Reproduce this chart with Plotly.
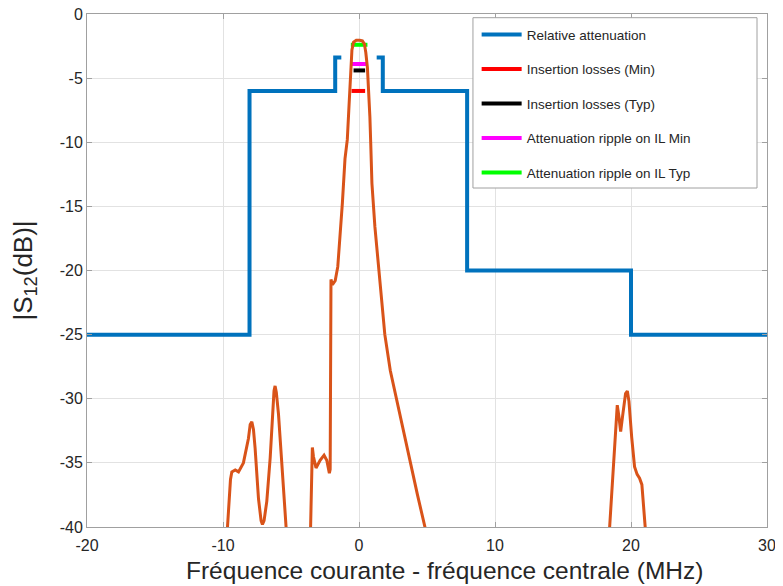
import plotly.graph_objects as go

# ---- Data ----
# Relative attenuation mask (MHz offset, dB)
mask_freq = [-20, -8.05, -8.05, -1.75, -1.75, -1.3, None, 1.3, 1.75, 1.75, 7.95, 7.95, 20, 20, 30]
mask_db = [-25, -25, -6, -6, -3.4, -3.4, None, -3.4, -3.4, -6, -6, -20, -20, -25, -25]

# Short horizontal specification segments
il_min_freq = [-0.55, 0.45]
il_min_db = [-6, -6]
il_typ_freq = [-0.4, 0.45]
il_typ_db = [-4.4, -4.4]
ripple_min_freq = [-0.55, 0.62]
ripple_min_db = [-3.9, -3.9]
ripple_typ_freq = [-0.6, 0.62]
ripple_typ_db = [-2.4, -2.4]

# Measured |S12| (MHz offset, dB); None separates parts below -40 dB
meas_freq = [
    -9.7, -9.58, -9.45, -9.35, -9.1, -8.86, -8.5, -8.13, -8.0, -7.88, -7.76, -7.64, -7.39,
    -7.2, -7.1, -6.98, -6.78, -6.53, -6.34, -6.25, -6.17, -6.08, -5.92, -5.68, -5.33,
    None,
    -3.57, -3.5, -3.43, -3.35, -3.16, -2.86, -2.57, -2.37, -2.18, -2.12, -2.09, -2.07, -2.06,
    -1.95, -1.75, -1.56, -1.39, -1.22, -1.03, -0.86, -0.75, -0.66, -0.58, -0.52, -0.4, -0.2,
    0.05, 0.25, 0.4, 0.5, 0.62, 0.72, 0.8, 0.86, 0.95, 1.17, 1.54, 1.9, 2.3, 2.77, 3.25,
    3.74, 4.3, 4.85, 4.95,
    None,
    18.4, 18.55, 18.74, 18.9, 18.99, 19.1, 19.24, 19.4, 19.6, 19.73, 19.85, 20.05, 20.26,
    20.45, 20.63, 20.8, 20.95, 21.08,
]
meas_db = [
    -40.5, -38.0, -36.3, -35.7, -35.55, -35.7, -35.0, -33.1, -32.0, -31.8, -32.4, -33.85, -37.8,
    -39.5, -39.8, -39.5, -38.0, -34.6, -30.7, -29.4, -29.0, -29.5, -31.2, -35.4, -40.5,
    None,
    -40.5, -37.0, -33.8, -34.5, -35.4, -34.8, -34.4, -34.8, -35.8, -35.5, -30.0, -25.0, -20.7,
    -21.1, -20.8, -19.7, -17.3, -14.7, -11.3, -9.8, -7.5, -5.9, -4.0, -2.8, -2.2, -2.05,
    -2.05, -2.1, -2.35, -3.0, -4.2, -6.0, -8.0, -10.0, -13.2, -16.6, -21.0, -25.0, -27.8, -30.1, -32.6,
    -35.0, -37.5, -40.0, -40.5,
    None,
    -40.5, -38.0, -35.5, -32.0, -30.5, -31.3, -32.55, -31.2, -29.6, -29.4, -30.2, -33.0, -35.3,
    -35.9, -36.2, -36.7, -38.5, -40.5,
]

x_ticks = [-20, -10, 0, 10, 20, 30]
y_ticks = [0, -5, -10, -15, -20, -25, -30, -35, -40]

x_title = "Fréquence courante - fréquence centrale (MHz)"
y_title = "|S<sub>12</sub>(dB)|"

FONT = "Liberation Sans, Arial, Helvetica, sans-serif"

# ---- Figure ----
fig = go.Figure()
fig.add_trace(go.Scatter(x=mask_freq, y=mask_db, mode="lines", name="Relative attenuation",
                         line=dict(color="#0072BD", width=4), legendgroup="a"))
fig.add_trace(go.Scatter(x=il_min_freq, y=il_min_db, mode="lines", name="Insertion losses (Min)",
                         line=dict(color="#FF0000", width=4), legendgroup="b"))
fig.add_trace(go.Scatter(x=il_typ_freq, y=il_typ_db, mode="lines", name="Insertion losses (Typ)",
                         line=dict(color="#000000", width=4), legendgroup="c"))
fig.add_trace(go.Scatter(x=ripple_min_freq, y=ripple_min_db, mode="lines", name="Attenuation ripple on IL Min",
                         line=dict(color="#FF00FF", width=4), legendgroup="d"))
fig.add_trace(go.Scatter(x=ripple_typ_freq, y=ripple_typ_db, mode="lines", name="Attenuation ripple on IL Typ",
                         line=dict(color="#00FF00", width=4), legendgroup="e"))
fig.add_trace(go.Scatter(x=meas_freq, y=meas_db, mode="lines", showlegend=False,
                         line=dict(color="#D95319", width=3)))

axis_common = dict(
    showgrid=True, gridcolor="#e2e2e2", gridwidth=1,
    showline=True, linecolor="#a0a0a0", linewidth=1, mirror="ticks",
    ticks="inside", ticklen=5, tickcolor="#a0a0a0",
    zeroline=False, automargin=False, ticklabeloverflow="allow",
    tickfont=dict(family=FONT, size=16, color="#262626"),
)

# Legend frame (drawn as a shape so it can be wider than the entries)
fig.add_shape(type="rect", xref="paper", yref="paper",
              x0=0.5676, x1=0.9853, y0=0.6608, y1=0.9928,
              fillcolor="white", line=dict(color="#a0a0a0", width=1), layer="above")

# X axis title (placed as annotation to match the reference's horizontal offset)
fig.add_annotation(text=x_title, xref="paper", yref="paper", x=0.525, y=-0.084,
                   xanchor="center", yanchor="middle", showarrow=False,
                   font=dict(family=FONT, size=24.5, color="#262626"))

fig.update_layout(
    width=775, height=578,
    margin=dict(l=79, r=16, t=6, b=59),
    paper_bgcolor="white", plot_bgcolor="white",
    font=dict(family=FONT, color="#262626"),
    xaxis=dict(range=[-20, 30], tickvals=x_ticks, ticktext=[str(v) for v in x_ticks],
               ticklabelstandoff=4, **axis_common),
    yaxis=dict(range=[-40, 0], tickvals=y_ticks, ticktext=[str(v) for v in y_ticks],
               title=dict(text=y_title, font=dict(size=26), standoff=20),
               **axis_common),
    legend=dict(x=0.573, y=0.990, xanchor="left", yanchor="top",
                bgcolor="rgba(0,0,0,0)", borderwidth=0,
                font=dict(size=13.5, color="#262626"),
                traceorder="grouped", tracegroupgap=14, itemwidth=40),
)

fig.write_html("out.html")
